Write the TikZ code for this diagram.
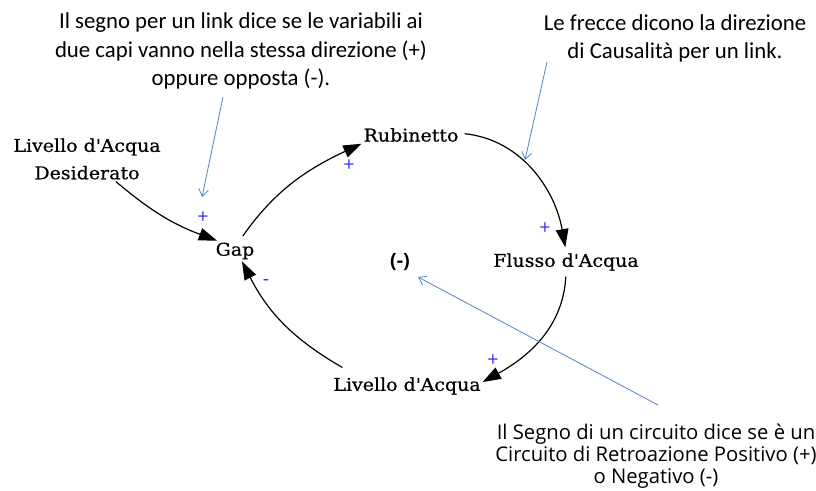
\documentclass[tikz,border=0pt]{standalone}
\usepackage{fontspec}
\newfontfamily\varfont[FakeStretch=1.08, FakeBold=0.6]{DejaVu Serif}
\newfontfamily\notefont{Carlito}
\newfontfamily\loopfont{Open Sans}
\usetikzlibrary{arrows.meta}

\definecolor{signblue}{RGB}{60,50,255}
\definecolor{hintblue}{RGB}{91,134,197}

\begin{document}
\begin{tikzpicture}[x=0.025cm, y=0.025cm, line width=0.85pt,
                    >={Triangle[length=13pt, width=9pt]}]
  \tikzstyle{every node}=[inner sep=1pt]
  \tikzstyle{var}=[font=\varfont\fontsize{12.5}{19.5}\selectfont, align=center]
  \tikzstyle{sign}=[font=\loopfont\fontsize{14}{14}\selectfont, text=signblue]
  \tikzstyle{note}=[font=\notefont\fontsize{16.2}{20}\selectfont, align=center]
  \tikzstyle{loopnote}=[font=\loopfont\fontsize{14.4}{17.5}\selectfont, align=center]
  \tikzstyle{hint}=[draw=hintblue, line width=0.6pt, -{Straight Barb[length=5pt, width=7pt]}]

  \useasboundingbox (0,0) rectangle (816,491);

  % variables of the loop
  \node[var] (rub)     at (411,356) {Rubinetto};
  \node[var] (flusso)  at (566,229) {Flusso d\textquotesingle Acqua};
  \node[var] (livello) at (407,105) {Livello d\textquotesingle Acqua};
  \node[var] (gap)     at (235,240) {Gap};
  \node[var] (desid)   at (87,332)  {Livello d\textquotesingle Acqua\\Desiderato};

  % link signs
  \node[sign] (pdesid)   at (203,273) {+};
  \node[sign] (prub)     at (349,325) {+};
  \node[sign] (pflusso)  at (545,262) {+};
  \node[sign] (plivello) at (493,130) {+};
  \node[sign] (mgap)     at (266,208) {-};

  \node[font=\loopfont\bfseries\fontsize{14}{14}\selectfont] (loop) at (400,229) {(-)};

  % notes
  \node[note] (notesign)  at (241,440) {Il segno per un link dice se le variabili ai\\
                                         due capi vanno nella stessa direzione (+)\\
                                         oppure opposta (-).};
  \node[note] (notearrow) at (675,453) {Le frecce dicono la direzione\\
                                         di Causalità per un link.};
  \node[loopnote] (noteloop) at (656,35) {Il Segno di un circuito dice se è un\\[-1.8pt]
                                         Circuito di Retroazione Positivo (+)\\[-1.8pt]
                                         o Negativo (-)};

  \coordinate (signtail)  at (223,394);
  \coordinate (signtip)   at (202,294);
  \coordinate (arrowtail) at (547,429);
  \coordinate (arrowtip)  at (525,331);
  \coordinate (looptail)  at (658,86);
  \coordinate (looptip)   at (418,214);

  \path[->]
        (desid.-38) edge [bend right=10]                     (gap.150)
        (gap.66)    edge [out=55, in=205, shorten <=4pt]     (rub.190)
        (rub.2)     edge [out=-6, in=100, shorten <=3pt, shorten >=3pt] (flusso.north)
        (flusso.south) edge [out=-93, in=29, shorten <=3pt]  (livello.3)
        ([shift={(11,8)}]livello.north west) edge [out=150, in=-63] (gap.-56);

  \draw[hint] (signtail)  -- (signtip);
  \draw[hint] (arrowtail) -- (arrowtip);
  \draw[hint] (looptail)  -- (looptip);
\end{tikzpicture}
\end{document}
